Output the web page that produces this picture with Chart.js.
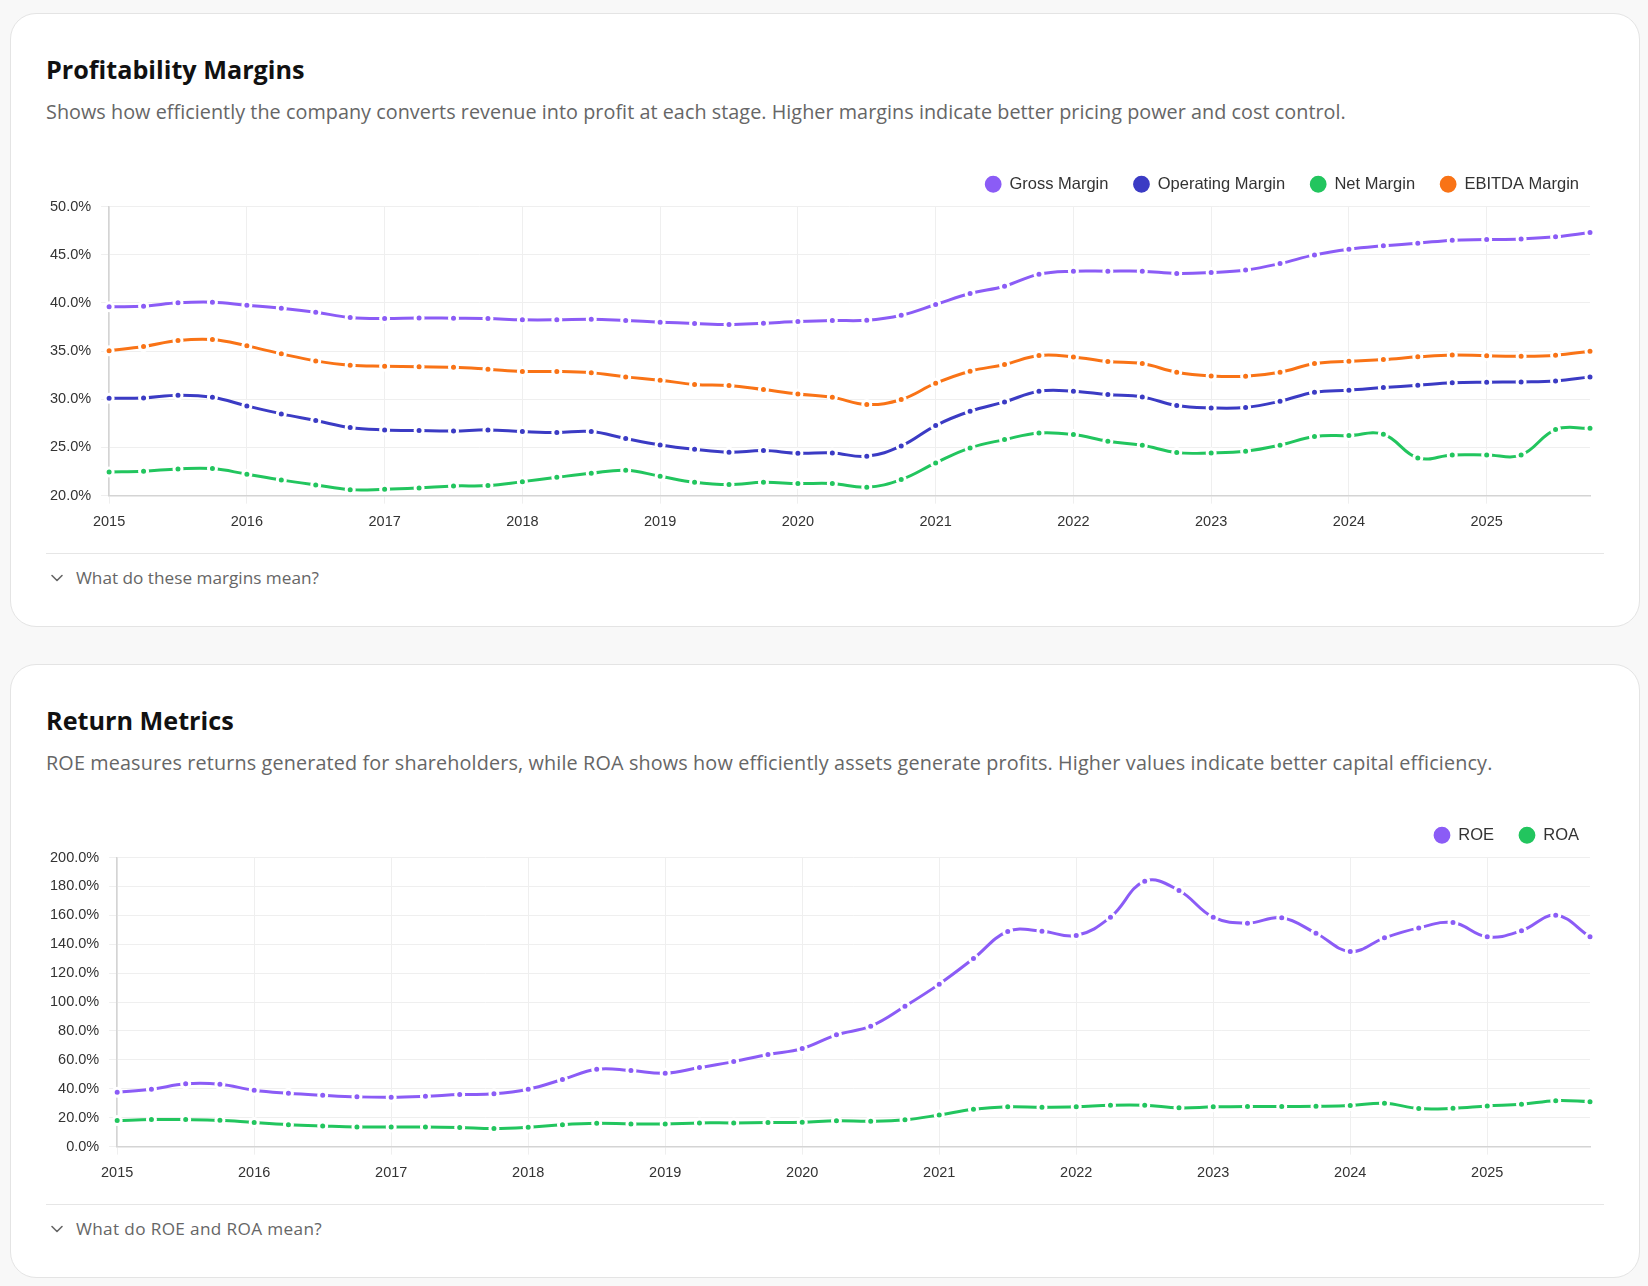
<!DOCTYPE html>
<html>
<head>
<meta charset="utf-8">
<script src="https://cdn.jsdelivr.net/npm/chart.js@4.4.1/dist/chart.umd.min.js"></script>
<style>
  html, body { margin: 0; padding: 0; background: #f8f8f8; width: 1648px; height: 1286px; overflow: hidden; }
  body { font-family: "Open Sans", "Liberation Sans", Arial, sans-serif; }
  .card { position: absolute; left: 10px; width: 1630px; height: 614px; box-sizing: border-box;
          background: #fff; border: 1px solid #e4e4e4; border-radius: 26px; }
  .title { position: absolute; left: 35px; top: 40px; margin: 0; font-size: 25.2px; line-height: 30px; font-weight: 700; color: #111; }
  .sub { position: absolute; left: 35px; top: 85px; margin: 0; font-size: 19.8px; line-height: 25px; color: #666; white-space: nowrap; }
  .chartbox { position: absolute; left: 29px; top: 137px; width: 1564px; height: 390px; }
  .divider { position: absolute; left: 35px; width: 1558px; top: 539px; height: 0; border-top: 1px solid #e6e6e6; }
  .more { position: absolute; left: 35px; top: 553px; font-size: 17.2px; line-height: 22px; color: #666; white-space: nowrap; }
  .more svg { position: absolute; left: 4px; top: 6px; }
  .more span { position: absolute; left: 30px; top: 0; }
</style>
</head>
<body>
<div class="card" style="top:13px">
  <h2 class="title">Profitability Margins</h2>
  <p class="sub" style="letter-spacing:0.04px">Shows how efficiently the company converts revenue into profit at each stage. Higher margins indicate better pricing power and cost control.</p>
  <div class="chartbox"><canvas id="c1"></canvas></div>
  <div class="divider"></div>
  <div class="more"><svg width="14" height="10" viewBox="0 0 14 10"><path d="M2 2.5 L7 7.5 L12 2.5" fill="none" stroke="#666" stroke-width="1.6" stroke-linecap="round" stroke-linejoin="round"/></svg><span>What do these margins mean?</span></div>
</div>
<div class="card" style="top:664px">
  <h2 class="title">Return Metrics</h2>
  <p class="sub" style="letter-spacing:0.14px">ROE measures returns generated for shareholders, while ROA shows how efficiently assets generate profits. Higher values indicate better capital efficiency.</p>
  <div class="chartbox"><canvas id="c2"></canvas></div>
  <div class="divider"></div>
  <div class="more"><svg width="14" height="10" viewBox="0 0 14 10"><path d="M2 2.5 L7 7.5 L12 2.5" fill="none" stroke="#666" stroke-width="1.6" stroke-linecap="round" stroke-linejoin="round"/></svg><span style="letter-spacing:0.35px">What do ROE and ROA mean?</span></div>
</div>
<script>
const quarters = [
  '2015 Q1','2015 Q2','2015 Q3','2015 Q4','2016 Q1','2016 Q2','2016 Q3','2016 Q4',
  '2017 Q1','2017 Q2','2017 Q3','2017 Q4','2018 Q1','2018 Q2','2018 Q3','2018 Q4',
  '2019 Q1','2019 Q2','2019 Q3','2019 Q4','2020 Q1','2020 Q2','2020 Q3','2020 Q4',
  '2021 Q1','2021 Q2','2021 Q3','2021 Q4','2022 Q1','2022 Q2','2022 Q3','2022 Q4',
  '2023 Q1','2023 Q2','2023 Q3','2023 Q4','2024 Q1','2024 Q2','2024 Q3','2024 Q4',
  '2025 Q1','2025 Q2','2025 Q3','2025 Q4'
];
const grossMargin = [39.6,39.65,40.0,40.07,39.76,39.45,39.03,38.48,38.37,38.44,38.41,38.37,38.24,38.24,38.31,38.17,38.0,37.86,37.75,37.89,38.06,38.17,38.2,38.72,39.83,40.97,41.73,42.98,43.29,43.29,43.29,43.05,43.15,43.41,44.08,44.98,45.57,45.92,46.19,46.51,46.57,46.64,46.85,47.3];
const operatingMargin = [30.1,30.14,30.42,30.21,29.31,28.48,27.79,27.06,26.82,26.75,26.71,26.82,26.65,26.54,26.65,25.92,25.26,24.81,24.5,24.67,24.4,24.43,24.08,25.15,27.27,28.75,29.72,30.83,30.83,30.48,30.24,29.34,29.1,29.15,29.79,30.73,30.94,31.21,31.45,31.7,31.77,31.8,31.9,32.32];
const netMargin = [22.46,22.53,22.77,22.8,22.22,21.63,21.11,20.62,20.66,20.8,21.0,21.04,21.45,21.9,22.32,22.63,22.01,21.38,21.14,21.38,21.25,21.25,20.87,21.66,23.39,24.95,25.81,26.5,26.33,25.64,25.22,24.46,24.43,24.6,25.23,26.13,26.23,26.37,23.91,24.22,24.22,24.22,26.85,26.99];
const ebitdaMargin = [35.02,35.47,36.09,36.2,35.54,34.71,33.98,33.53,33.43,33.36,33.32,33.12,32.88,32.88,32.74,32.32,31.98,31.53,31.42,31.0,30.55,30.21,29.45,29.97,31.66,32.91,33.6,34.53,34.39,33.91,33.7,32.8,32.42,32.39,32.8,33.7,33.95,34.12,34.4,34.6,34.5,34.46,34.57,34.98];
const roe = [37.6,39.7,43.4,43.1,39.0,36.9,35.5,34.4,34.1,34.8,36.0,36.5,39.7,46.4,53.5,52.6,50.8,54.7,58.8,63.7,67.8,77.3,83.3,97.1,112.4,130.1,148.8,149.0,146.0,158.7,183.6,177.2,158.7,154.6,158.3,147.6,135.0,144.4,151.3,155.0,145.1,149.3,160.1,145.1];
const roa = [18.0,18.7,18.7,18.2,16.6,15.2,14.3,13.6,13.6,13.6,13.2,12.5,13.4,15.2,16.1,15.7,15.7,16.4,16.4,16.6,16.8,17.8,17.5,18.5,21.9,25.8,27.5,27.2,27.5,28.6,28.6,26.8,27.5,27.8,27.7,27.9,28.4,30.0,26.3,26.5,28.1,29.3,31.8,31.1];

const marginSeries = [
  { label: 'Gross Margin', data: grossMargin, color: '#8b5cf6' },
  { label: 'Operating Margin', data: operatingMargin, color: '#3b3bc4' },
  { label: 'Net Margin', data: netMargin, color: '#22c55e' },
  { label: 'EBITDA Margin', data: ebitdaMargin, color: '#f97316' }
];
const returnSeries = [
  { label: 'ROE', data: roe, color: '#8b5cf6' },
  { label: 'ROA', data: roa, color: '#22c55e' }
];
const marginAxis = { min: 20, max: 50, step: 5 };
const returnAxis = { min: 0, max: 200, step: 20 };

const isYear = (i) => quarters[i] && quarters[i].endsWith('Q1');
const tickFont = { family: '"Liberation Sans", Arial, sans-serif', size: 14.5 };

const legendFix = {
  id: 'legendFix',
  beforeInit(chart) {
    const origFit = chart.legend.fit;
    chart.legend.fit = function () {
      origFit.call(this);
      this.height += 4;
    };
  }
};

function makeChart(id, series, axis) {
  return new Chart(document.getElementById(id), {
    type: 'line',
    data: {
      labels: quarters,
      datasets: series.map(s => ({
        label: s.label,
        data: s.data,
        borderColor: s.color,
        backgroundColor: s.color,
        pointBackgroundColor: s.color,
        pointBorderColor: '#ffffff',
        pointBorderWidth: 3,
        pointRadius: 4,
        borderWidth: 3,
        tension: 0.4,
        fill: false
      }))
    },
    options: {
      responsive: true,
      maintainAspectRatio: false,
      animation: false,
      layout: { padding: { left: 0, right: 0, top: 0, bottom: 0 } },
      plugins: {
        legend: {
          position: 'top',
          align: 'end',
          labels: {
            usePointStyle: true,
            pointStyle: 'circle',
            boxWidth: 16,
            boxHeight: 14,
            padding: 25,
            color: '#333',
            font: { family: '"Liberation Sans", Arial, sans-serif', size: 16.5 }
          }
        },
        tooltip: { enabled: false }
      },
      scales: {
        x: {
          offset: false,
          afterFit: (scale) => { scale.paddingRight = 14; },
          border: { display: true, color: '#d4d4d4', width: 1.5 },
          grid: {
            color: (ctx) => isYear(ctx.index) ? '#efefef' : 'rgba(0,0,0,0)',
            tickColor: (ctx) => isYear(ctx.index) ? '#efefef' : 'rgba(0,0,0,0)',
            tickLength: 8
          },
          ticks: {
            autoSkip: false,
            maxRotation: 0,
            padding: 10,
            color: '#333',
            font: tickFont,
            callback: (v, i) => isYear(i) ? quarters[i].slice(0, 4) : ''
          }
        },
        y: {
          min: axis.min,
          max: axis.max,
          border: { display: true, color: '#d4d4d4', width: 1.5 },
          grid: { color: '#efefef', tickLength: 8 },
          ticks: {
            stepSize: axis.step,
            padding: 10,
            color: '#333',
            font: tickFont,
            callback: (v) => Number(v).toFixed(1) + '%'
          }
        }
      }
    },
    plugins: [legendFix]
  });
}

makeChart('c1', marginSeries, marginAxis);
makeChart('c2', returnSeries, returnAxis);
</script>
</body>
</html>
